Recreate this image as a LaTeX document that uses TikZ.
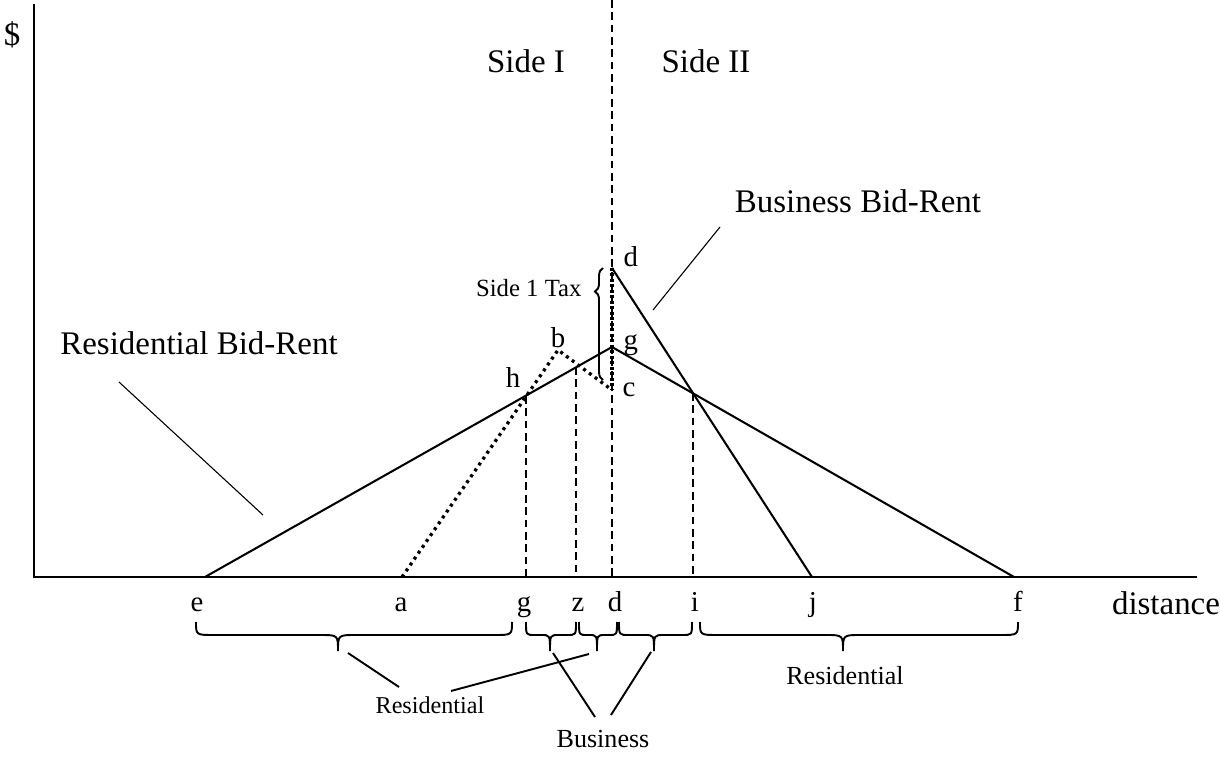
\documentclass[tikz,border=0pt]{standalone}
\usepackage{fontspec}
\setmainfont{Liberation Serif}
\usetikzlibrary{decorations.pathreplacing,calc}

\begin{document}
\begin{tikzpicture}[x=0.0128cm, y=-0.0128cm,
    bidline/.style={line width=0.75pt},
    axisline/.style={line width=0.75pt},
    pointer/.style={line width=0.4pt},
    pointerb/.style={line width=0.7pt},
    guide/.style={line width=0.6pt, dash pattern=on 2.8pt off 1.7pt},
    taxline/.style={line width=1.2pt, dash pattern=on 1.1pt off 1.5pt},
    taxlineb/.style={line width=1.5pt, dash pattern=on 1pt off 1pt},
    bracestyle/.style={line width=0.7pt},
    biglbl/.style={font=\fontsize{12}{14}\selectfont, inner sep=0pt, anchor=base},
    ptlbl/.style={font=\fontsize{10.5}{12}\selectfont, inner sep=0pt, anchor=base},
    smalllbl/.style={font=\fontsize{9.5}{11}\selectfont, inner sep=0pt, anchor=base}]
    \useasboundingbox (0,0) rectangle (1220,757);

    % axes
    \coordinate (origin) at (34,577);
    \coordinate (ytop) at (34,4);
    \coordinate (xend) at (1197,577);
    \draw[axisline] (ytop) -- (origin) -- (xend);
    \node[biglbl, anchor=center] (dollar) at (12,35) {\$};
    \node[biglbl] (dist) at (1166,615) {distance};

    % points on the distance axis
    \foreach \name/\x/\lx in {e/205/197, a/402/401, g/526/524, z/576/578,
                              d/612/615, i/693/695, j/812/813, f/1014/1018} {
        \coordinate (\name) at (\x,577);
        \node[ptlbl] (lbl-\name) at (\lx,611) {\name};
    }

    % border between the two sides
    \coordinate (top) at (612,0);
    \draw[guide] (top) -- (d);
    \node[biglbl] (side1) at (526,73) {Side I};
    \node[biglbl] (side2) at (706,73) {Side II};

    % bid-rent curves
    \coordinate (G) at (612,347);
    \coordinate (D) at (612,268);
    \coordinate (B) at (558,350);
    \coordinate (C) at (612,390);
    \draw[bidline] (e) -- (G) -- (f);
    \draw[bidline] (D) -- (j);
    \draw[taxline] (a) -- (B) -- (C);
    \draw[taxlineb] (D) -- (C);

    % zone boundaries
    \coordinate (H) at (526,396);
    \coordinate (Z) at (576,367);
    \coordinate (I) at (693,393);
    \draw[guide] (H) -- (g);
    \draw[guide] (Z) -- (z);
    \draw[guide] (I) -- (i);

    % point labels
    \node[ptlbl, anchor=base west] (lbl-D) at (623,267) {d};
    \node[ptlbl, anchor=base west] (lbl-G) at (623,350) {g};
    \node[ptlbl, anchor=base west] (lbl-C) at (622,397) {c};
    \node[ptlbl] (lbl-B) at (558,348) {b};
    \node[ptlbl] (lbl-H) at (513,388) {h};

    % tax brace
    \coordinate (taxlo) at (603,380);
    \coordinate (taxhi) at (603,268);
    \draw[bracestyle, decorate, decoration={brace, amplitude=2.9pt, aspect=0.79}] (taxlo) -- (taxhi);
    \node[smalllbl, font=\fontsize{9}{11}\selectfont, anchor=base east] (tax) at (582,297) {Side 1 Tax};

    % curve names
    \node[biglbl] (resname) at (199,355) {Residential Bid-Rent};
    \node[biglbl] (busname) at (858,213) {Business Bid-Rent};
    \coordinate (respt) at (119,382);
    \coordinate (resend) at (263,515);
    \coordinate (buspt) at (720,227);
    \coordinate (busend) at (653,310);
    \draw[pointer] (respt) -- (resend);
    \draw[pointer] (buspt) -- (busend);

    % zone braces under the axis
    \foreach \l/\t/\r/\c in {196/338/512/18, 526/550/576/9, 579/597/617/8,
                             619/654/692/10, 700/843/1018/18} {
        \draw[bracestyle] (\l,622) .. controls (\l,635) .. (\l+\c,635) -- (\t-\c,635)
            .. controls (\t,635) .. (\t,651) .. controls (\t,635) .. (\t+\c,635)
            -- (\r-\c,635) .. controls (\r,635) .. (\r,622);
    }

    % zone names
    \node[smalllbl, font=\fontsize{8.8}{11}\selectfont] (resL) at (430,714) {Residential};
    \node[smalllbl] (bus) at (603,748) {Business};
    \node[smalllbl] (resR) at (845,685) {Residential};
    \coordinate (resL1) at (348,653);
    \coordinate (resL1e) at (399,687);
    \coordinate (resL2) at (589,654);
    \coordinate (resL2e) at (451,691);
    \coordinate (bus1) at (553,653);
    \coordinate (bus1e) at (595,717);
    \coordinate (bus2) at (651,652);
    \coordinate (bus2e) at (611,715);
    \draw[pointerb] (resL1) -- (resL1e);
    \draw[pointerb] (resL2) -- (resL2e);
    \draw[pointerb] (bus1) -- (bus1e);
    \draw[pointerb] (bus2) -- (bus2e);
\end{tikzpicture}
\end{document}
